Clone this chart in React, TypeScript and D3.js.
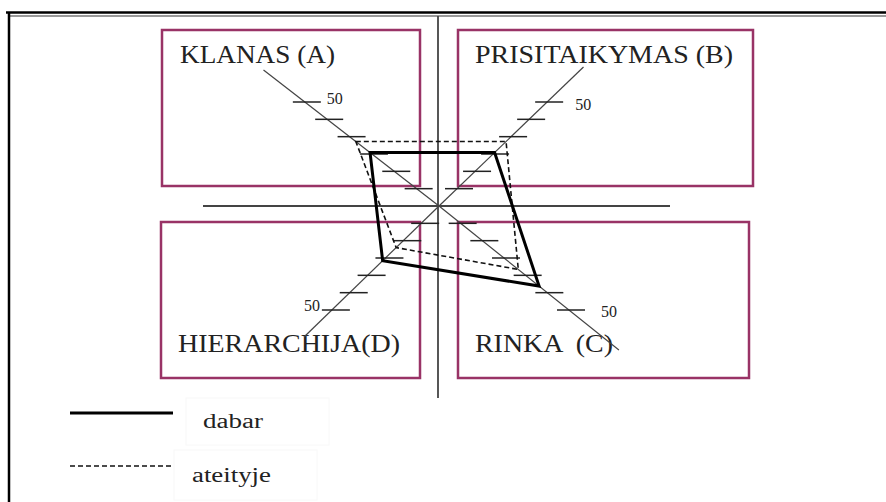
import React from "react";
import * as d3 from "d3";

// Quadrant (axis) names, in order A, B, C, D
const quadrants = ["KLANAS (A)", "PRISITAIKYMAS (B)", "RINKA  (C)", "HIERARCHIJA(D)"];
const axisKeys = ["A", "B", "C", "D"];
// Series values on each axis (A, B, C, D)
const dabar = [25.7, 25.7, 38.5, 26.3];
const ateityje = [31, 31, 30.5, 20];
// Axis extent (units) and tick values
const axisExtent = [65.4, 66.8, 69.2, 63];
const tickValues = [8.33, 16.67, 25, 33.33, 41.67, 50];
const tickLabel = "50";
const legendLabels = ["dabar", "ateityje"];

const W = 886;
const H = 502;
const cx = 439;
const cy = 206;
// direction of each axis: (dx per unit dy, sign of dy)
const dirs: [number, number][] = [
  [-1.29, -1],
  [1.04, -1],
  [1.25, 1],
  [-1.03, 1],
];
const MAROON = "#993366";
const FONT = "'Liberation Serif', 'Times New Roman', serif";

export default function App() {
  const r = d3.scaleLinear().domain([0, 50]).range([0, 104]);
  const pt = (i: number, v: number): [number, number] => {
    const dy = r(v) * dirs[i][1];
    const dx = r(v) * Math.abs(dirs[i][1]) * dirs[i][0];
    return [cx + dx, cy + dy];
  };
  const line = d3.line<[number, number]>().curve(d3.curveLinearClosed);
  const solidPath = line(dabar.map((v, i) => pt(i, v))) || "";
  const dashPath = line(ateityje.map((v, i) => pt(i, v))) || "";

  const boxes = [
    { x: 162, y: 30, w: 258, h: 156 },
    { x: 458, y: 30, w: 295, h: 156 },
    { x: 458, y: 222, w: 291, h: 156 },
    { x: 161, y: 222, w: 259, h: 156 },
  ];
  const titles = [
    { x: 180, y: 63, len: 155 },
    { x: 475, y: 63, len: 258 },
    { x: 475, y: 352, len: 138 },
    { x: 178, y: 352, len: 222 },
  ];
  const labelOff = [
    { dx: 22, dy: 2, anchor: "start" },
    { dx: 28, dy: 8, anchor: "start" },
    { dx: 32, dy: 7, anchor: "start" },
    { dx: -12, dy: 1, anchor: "end" },
  ];
  const tickOff = [2, 2, 2, 4];

  return (
    <svg
      width={W}
      height={H}
      style={{ position: "absolute", left: 0, top: 0, background: "#fff" }}
    >
      {/* frame */}
      <line x1={6} y1={12.5} x2={W} y2={12.5} stroke="#000" strokeWidth={2.5} />
      <line x1={9} y1={16} x2={W} y2={16} stroke="#777" strokeWidth={1.5} />
      <line x1={9} y1={12} x2={9} y2={H} stroke="#000" strokeWidth={2.5} />

      {/* quadrant boxes */}
      {boxes.map((b, i) => (
        <rect key={i} x={b.x} y={b.y} width={b.w} height={b.h} fill="none" stroke={MAROON} strokeWidth={2.5} />
      ))}

      {/* center cross */}
      <line x1={438} y1={16} x2={438} y2={398} stroke="#444" strokeWidth={1.8} />
      <line x1={203} y1={206} x2={670} y2={206} stroke="#444" strokeWidth={1.8} />

      {/* box titles */}
      {quadrants.map((q, i) => (
        <text
          key={q}
          x={titles[i].x}
          y={titles[i].y}
          fontFamily={FONT}
          fontSize={26}
          textLength={titles[i].len}
          lengthAdjust="spacingAndGlyphs"
          fill="#222"
          style={{ whiteSpace: "pre" }}
        >
          {q}
        </text>
      ))}

      {/* diagonal axes */}
      {axisKeys.map((k, i) => {
        const [x2, y2] = pt(i, axisExtent[i]);
        return <line key={k} x1={cx} y1={cy} x2={x2} y2={y2} stroke="#444" strokeWidth={1.2} />;
      })}

      {/* ticks */}
      {axisKeys.map((k, i) =>
        tickValues.map((t, j) => {
          const [x, y] = pt(i, t);
          return (
            <line
              key={k + j}
              x1={x - 14 + tickOff[i]}
              y1={y}
              x2={x + 14 + tickOff[i]}
              y2={y}
              stroke="#222"
              strokeWidth={1.5}
            />
          );
        })
      )}
      {axisKeys.map((k, i) => {
        const [x, y] = pt(i, tickValues[tickValues.length - 1]);
        return (
          <text
            key={"l" + k}
            x={x + labelOff[i].dx}
            y={y + labelOff[i].dy}
            textAnchor={labelOff[i].anchor as any}
            fontFamily={FONT}
            fontSize={16}
            fill="#222"
          >
            {tickLabel}
          </text>
        );
      })}

      {/* series */}
      <path d={dashPath} fill="none" stroke="#111" strokeWidth={1.6} strokeDasharray="5,3" />
      <path d={solidPath} fill="none" stroke="#000" strokeWidth={3} strokeLinejoin="miter" />

      {/* legend */}
      <rect x={186} y={398} width={143} height={47} fill="none" stroke="#f8f8f8" strokeWidth={1} />
      <rect x={174} y={450} width={143} height={50} fill="none" stroke="#f8f8f8" strokeWidth={1} />
      <line x1={70} y1={413} x2={173} y2={413} stroke="#000" strokeWidth={3} />
      <line x1={70} y1={466} x2={173} y2={466} stroke="#111" strokeWidth={1.4} strokeDasharray="5,3" />
      <text
        x={203}
        y={428}
        fontFamily={FONT}
        fontSize={20}
        textLength={60}
        lengthAdjust="spacingAndGlyphs"
        fill="#222"
      >
        {legendLabels[0]}
      </text>
      <text
        x={192}
        y={482}
        fontFamily={FONT}
        fontSize={20}
        textLength={79}
        lengthAdjust="spacingAndGlyphs"
        fill="#222"
      >
        {legendLabels[1]}
      </text>
    </svg>
  );
}
